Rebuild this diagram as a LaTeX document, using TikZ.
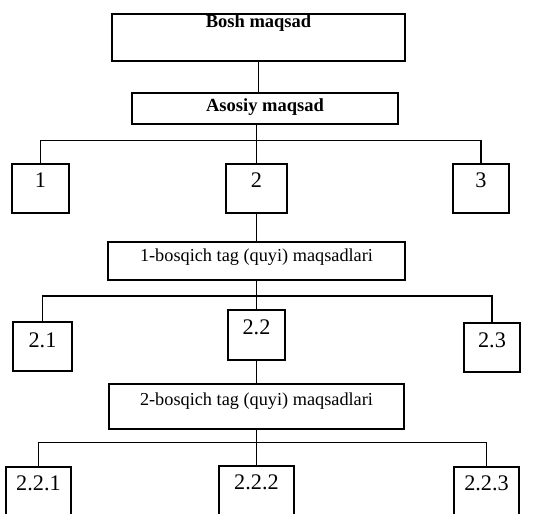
\documentclass[tikz,border=0pt]{standalone}
\usepackage{fontspec}
\setmainfont{Liberation Serif}
\usepackage{tikz}
\usetikzlibrary{positioning}

\begin{document}
\begin{tikzpicture}[
    node distance=1cm and 4.7cm,
    box/.style={rectangle, draw=black, line width=1.5pt, inner xsep=0pt, inner ysep=0pt, outer sep=0pt, align=center},
    goalbox/.style={box, font=\fontsize{15.8}{18}\selectfont\bfseries},
    stagebox/.style={box, font=\fontsize{15.6}{18}\selectfont},
    numbox/.style={box, font=\fontsize{19}{22}\selectfont},
    link/.style={line width=1pt, black}
]

% page frame (bottom boxes run off the sheet)
\clip (0,0) rectangle (16.29,-15.39);

% === Top: main goals ===
\node[goalbox, anchor=north, minimum width=8.79cm, text height=11.9pt, text depth=28.2pt] (bosh) at (7.755,-0.42) {Bosh maqsad};
\node[goalbox, minimum width=7.98cm, text height=16.2pt, text depth=10.2pt, below=0.96cm of bosh, xshift=0.195cm] (asosiy) {Asosiy maqsad};

% === First row: 1 2 3 ===
\node[numbox, minimum width=1.83cm, text height=20.5pt, text depth=21.3pt, below=1.2cm of asosiy, xshift=-0.255cm] (g2) {2};
\node[numbox, minimum width=1.71cm, text height=20.5pt, text depth=21.3pt, left=4.71cm of g2] (g1) {1};
\node[numbox, minimum width=1.68cm, text height=20.5pt, text depth=21.3pt, right=4.98cm of g2] (g3) {3};

% === 1-bosqich ===
\node[stagebox, minimum width=8.91cm, text height=17.1pt, text depth=15.4pt, below=0.87cm of g2] (bq1) {1-bosqich tag (quyi) maqsadlari};
\node[numbox, minimum width=1.71cm, text height=21.3pt, text depth=21.3pt, below=0.9cm of bq1] (s22) {2.2};
\node[numbox, minimum width=1.77cm, text height=22.2pt, text depth=19.6pt, left=4.68cm of s22, yshift=-0.345cm] (s21) {2.1};
\node[numbox, minimum width=1.68cm, text height=21.3pt, text depth=20.5pt, right=5.37cm of s22, yshift=-0.375cm] (s23) {2.3};

% === 2-bosqich ===
\node[stagebox, minimum width=8.85cm, text height=18.8pt, text depth=19.6pt, below=0.72cm of s22] (bq2) {2-bosqich tag (quyi) maqsadlari};
\node[numbox, anchor=north, minimum width=2.25cm, text height=20.5pt, text depth=51pt, below=1.11cm of bq2] (s222) {2.2.2};
\node[numbox, anchor=north, minimum width=1.95cm, text height=20.5pt, text depth=51pt, left=4.44cm of s222.north west, anchor=north east, yshift=-0.03cm] (s221) {2.2.1};
\node[numbox, anchor=north, minimum width=1.95cm, text height=20.5pt, text depth=51pt, right=4.8cm of s222.north east, anchor=north west, yshift=-0.03cm] (s223) {2.2.3};

% === Branch points ===
\coordinate[above=0.69cm of g2.north] (j1);
\coordinate[above=0.42cm of s22.north] (j2);
\coordinate[above=0.69cm of s222.north] (j3);

% === Connectors ===
\draw[link] (bosh.south) -- (bosh.south |- asosiy.north);
\draw[link] (g2.north |- asosiy.south) -- (g2.north);
\draw[link] (g1.north) |- (j1) -| (g3.north);

\draw[link] (g2) -- (bq1);
\draw[link] (bq1) -- (s22);
\draw[link] (s21.north) |- (j2) -| (s23.north);

\draw[link] (s22) -- (bq2);
\draw[link] (bq2) -- (s222);
\draw[link] (s221.north) |- (j3) -| (s223.north);

\end{tikzpicture}
\end{document}
